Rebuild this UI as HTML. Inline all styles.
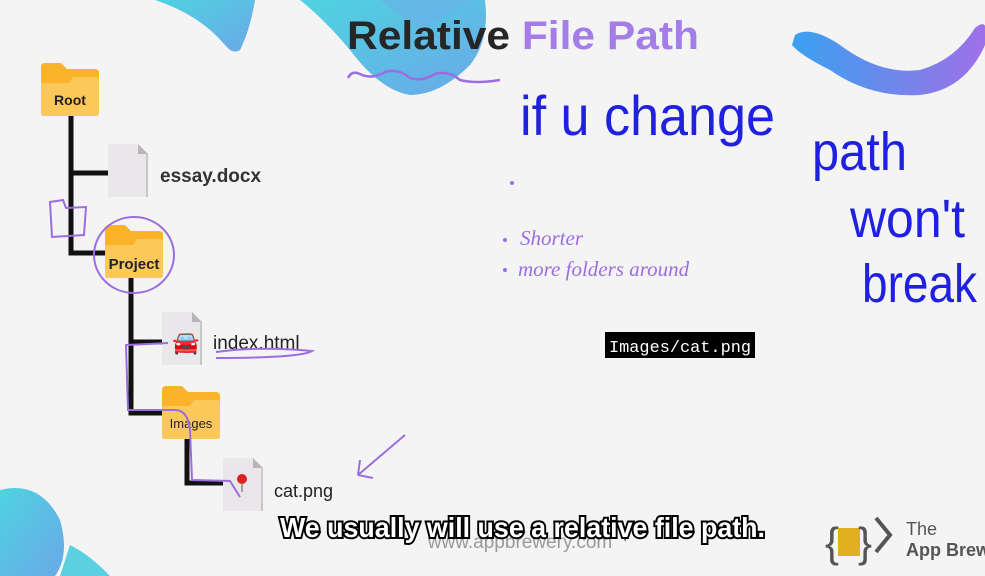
<!DOCTYPE html>
<html><head><meta charset="utf-8"><style>
html,body{margin:0;padding:0;background:#f4f4f4;}
svg{display:block}
</style></head><body>
<svg width="985" height="576" viewBox="0 0 985 576" xmlns="http://www.w3.org/2000/svg" style="font-family:'Liberation Sans',sans-serif">
<defs>
<linearGradient id="bg" x1="0" y1="0" x2="1" y2="1"><stop offset="0" stop-color="#4fd3e0"/><stop offset="1" stop-color="#6aa8e8"/></linearGradient>
<linearGradient id="sw" x1="0" y1="0" x2="1" y2="0"><stop offset="0" stop-color="#3aa0f0"/><stop offset="1" stop-color="#a070e8"/></linearGradient>
<g id="folder">
<path d="M0 4 Q0 0 4 0 H20 L26 6 H54 Q58 6 58 10 V50 Q58 53 55 53 H3 Q0 53 0 50Z" fill="#fbb32a"/>
<path d="M0 20 H28 L32 14 H55 Q58 14 58 17 V50 Q58 53 55 53 H3 Q0 53 0 50Z" fill="#fcc85a"/>
</g>
<g id="doc"><path d="M0 0 H30 L40 10 V53 H0Z" fill="#e9e7e9"/><path d="M30 0 L40 10 H30Z" fill="#b8b4b8"/><rect x="38" y="10" width="2" height="43" fill="#c9c5c9"/></g>
</defs>
<rect width="985" height="576" fill="#f4f4f4"/>
<path d="M155 0 H255 Q250 30 240 50 Q233 55 225 45 Q200 15 155 0Z" fill="url(#bg)"/>
<path d="M300 0 H485 Q490 40 470 65 Q440 95 410 95 Q380 90 350 50 Q325 20 300 0Z" fill="url(#bg)"/>
<path d="M380 0 L420 30 L470 0Z" fill="#6bb0e8" opacity=".6"/>
<path d="M795 35 Q810 25 840 45 Q880 75 920 70 Q955 60 975 28 Q990 15 985 45 Q965 90 920 95 Q870 98 830 70 Q800 55 792 45Z" fill="url(#sw)"/>
<path d="M0 490 Q40 480 60 520 Q70 555 55 576 H0Z" fill="url(#bg)"/>
<path d="M70 545 Q90 555 110 576 H60Z" fill="#5ad0e0"/>
<text x="347" y="49" font-size="40" font-weight="bold" fill="#262626" textLength="352" lengthAdjust="spacingAndGlyphs">Relative <tspan fill="#a57de8">File Path</tspan></text>
<path d="M348 78 Q352 70 360 74 Q372 80 385 72 Q398 68 410 78 Q422 82 435 74 Q448 70 460 80 Q475 84 500 80" stroke="#9b6ee0" stroke-width="2.5" fill="none"/>
<g stroke="#111" stroke-width="5" fill="none">
<path d="M71 116 V253 H105"/><path d="M71 173 H108"/>
<path d="M131 277 V413 H163"/><path d="M131 342 H163"/>
<path d="M187 438 V483 H223"/>
</g>
<use href="#folder" x="41" y="63"/><text x="70" y="105" font-size="14" font-weight="bold" fill="#222" text-anchor="middle">Root</text>
<use href="#doc" x="108" y="144"/><text x="160" y="182" font-size="19" font-weight="bold" fill="#333">essay.docx</text>
<use href="#folder" x="105" y="225"/><text x="134" y="269" font-size="15" font-weight="bold" fill="#222" text-anchor="middle">Project</text>
<use href="#doc" x="162" y="312"/><text x="172" y="350" font-size="22">🚘</text><text x="213" y="349" font-size="19" fill="#222">index.html</text>
<use href="#folder" x="162" y="386"/><text x="191" y="428" font-size="13" fill="#222" text-anchor="middle">Images</text>
<use href="#doc" x="223" y="458"/><circle cx="242" cy="479" r="5" fill="#d22"/><path d="M242 484 V492" stroke="#888" stroke-width="1.5"/>
<text x="274" y="497" font-size="18" fill="#222">cat.png</text>
<g stroke="#9b6ee0" stroke-width="2" fill="none">
<path d="M50 202 L63 200 L66 208 L86 207 L84 235 L52 237Z"/>
<ellipse cx="134" cy="255" rx="40" ry="38"/>
<path d="M216 352 Q260 346 312 351 Q300 358 216 358"/>
<path d="M168 343 L126 345 L128 410 L175 410 Q188 410 190 430 L192 480 L230 481 L240 497"/>
<path d="M405 435 L358 475 M358 475 L360 460 M358 475 L373 478"/>
</g>
<g fill="#9b6ee0"><circle cx="512" cy="183" r="2"/><circle cx="505" cy="240" r="2"/><circle cx="505" cy="270" r="2"/></g>
<text x="520" y="245" font-size="21" font-style="italic" fill="#9b6ee0" style="font-family:'Liberation Serif',serif">Shorter</text>
<text x="518" y="276" font-size="21" font-style="italic" fill="#9b6ee0" style="font-family:'Liberation Serif',serif">more folders around</text>
<g fill="#2020e0" style="font-family:'Liberation Sans',sans-serif" font-weight="normal">
<text x="520" y="135" font-size="56" textLength="255" lengthAdjust="spacingAndGlyphs">if u change</text>
<text x="812" y="170" font-size="54" textLength="95" lengthAdjust="spacingAndGlyphs">path</text>
<text x="850" y="237" font-size="54" textLength="115" lengthAdjust="spacingAndGlyphs">won't</text>
<text x="862" y="302" font-size="54" textLength="115" lengthAdjust="spacingAndGlyphs">break</text>
</g>
<rect x="605" y="332" width="150" height="26" fill="#000"/>
<text x="609" y="352" font-size="17" fill="#fff" style="font-family:'Liberation Mono',monospace" textLength="142" lengthAdjust="spacingAndGlyphs">Images/cat.png</text>
<text x="520" y="548" font-size="19" fill="#999" text-anchor="middle">www.appbrewery.com</text>
<text x="280" y="537" font-size="28" font-weight="bold" fill="#fff" stroke="#000" stroke-width="4" paint-order="stroke" textLength="485" lengthAdjust="spacingAndGlyphs">We usually will use a relative file path.</text>
<text x="825" y="557" font-size="42" fill="#555">{</text>
<rect x="838" y="528" width="22" height="28" fill="#e0b020"/>
<text x="858" y="557" font-size="42" fill="#555">}</text>
<path d="M876 518 L890 535 L876 552" stroke="#555" stroke-width="4" fill="none"/>
<text x="906" y="535" font-size="18" fill="#555">The</text>
<text x="906" y="556" font-size="18" font-weight="bold" fill="#555">App Brew</text>
</svg>
</body></html>
